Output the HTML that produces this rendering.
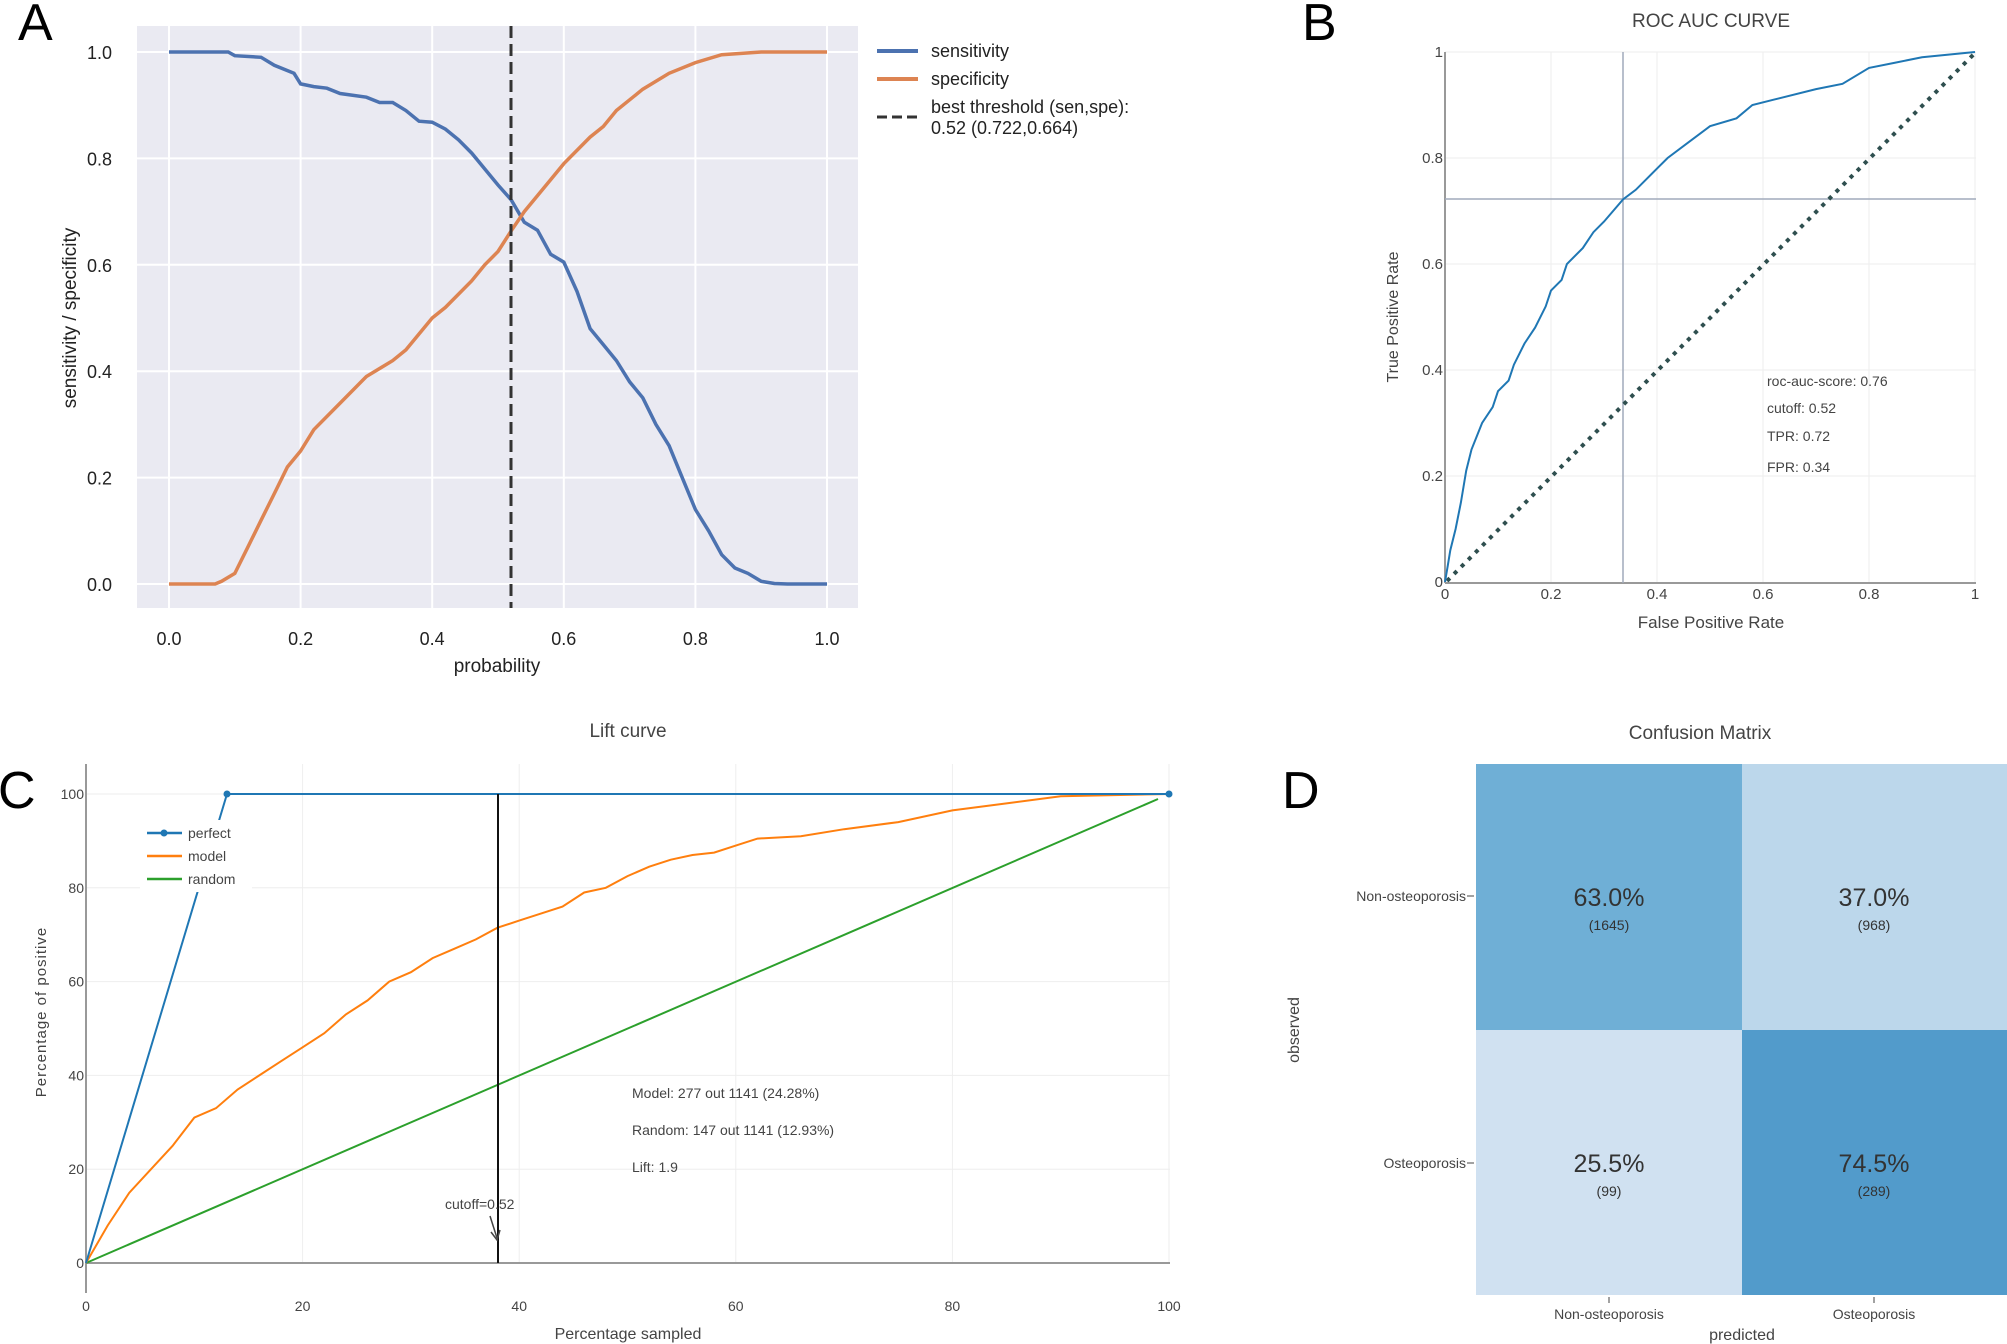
<!DOCTYPE html>
<html><head><meta charset="utf-8"><style>
body{margin:0;background:#fff;}
svg{display:block;font-family:"Liberation Sans",sans-serif;}
</style></head><body>
<svg id="s" width="2007" height="1344" viewBox="0 0 2007 1344" xmlns="http://www.w3.org/2000/svg">
<!-- Panel A -->
<text x="18" y="40" font-size="52">A</text>
<rect x="137" y="26" width="721" height="582" fill="#eaeaf2"/>
<g stroke="#fff" stroke-width="2" id="agrid"></g>
<g font-size="18" fill="#222" text-anchor="middle" id="axt"></g>
<g font-size="18" fill="#222" text-anchor="end" id="ayt"></g>
<text x="497" y="672" font-size="19" text-anchor="middle" fill="#222">probability</text>
<text transform="translate(76,318) rotate(-90)" font-size="19" text-anchor="middle" fill="#222">sensitivity / specificity</text>
<path id="sens" fill="none" stroke="#4c72b0" stroke-width="3.5"/>
<path id="spec" fill="none" stroke="#dd8452" stroke-width="3.5"/>
<line x1="511" y1="26" x2="511" y2="608" stroke="#333" stroke-width="3" stroke-dasharray="12,6"/>
<line x1="877" y1="51" x2="918" y2="51" stroke="#4c72b0" stroke-width="4"/>
<text x="931" y="57" font-size="18" fill="#222">sensitivity</text>
<line x1="877" y1="79" x2="918" y2="79" stroke="#dd8452" stroke-width="4"/>
<text x="931" y="85" font-size="18" fill="#222">specificity</text>
<line x1="877" y1="117" x2="918" y2="117" stroke="#333" stroke-width="3" stroke-dasharray="10,5"/>
<text x="931" y="113" font-size="18" fill="#222">best threshold (sen,spe):</text>
<text x="931" y="134" font-size="18" fill="#222">0.52 (0.722,0.664)</text>

<!-- Panel B -->
<text x="1302" y="40" font-size="52">B</text>
<text x="1711" y="27" font-size="19" text-anchor="middle" fill="#444">ROC AUC CURVE</text>
<g stroke="#eee" stroke-width="1" id="bgrid"></g>
<line x1="1445" y1="52" x2="1445" y2="583" stroke="#999" stroke-width="2"/>
<line x1="1445" y1="583" x2="1976" y2="583" stroke="#999" stroke-width="2"/>
<g font-size="15" fill="#444" id="bt"></g>
<text x="1711" y="628" font-size="17" text-anchor="middle" fill="#444">False Positive Rate</text>
<text transform="translate(1398,317) rotate(-90)" font-size="16" text-anchor="middle" fill="#444">True Positive Rate</text>
<line x1="1623" y1="52" x2="1623" y2="583" stroke="#a0aabb" stroke-width="1.5"/>
<line x1="1445" y1="199" x2="1976" y2="199" stroke="#a0aabb" stroke-width="1.5"/>
<line x1="1447" y1="581" x2="1975" y2="53" stroke="#2f4f4f" stroke-width="4" stroke-dasharray="4,6"/>
<path id="roc" fill="none" stroke="#1f77b4" stroke-width="2"/>
<g font-size="14" fill="#444">
<text x="1767" y="386">roc-auc-score: 0.76</text>
<text x="1767" y="413">cutoff: 0.52</text>
<text x="1767" y="441">TPR: 0.72</text>
<text x="1767" y="472">FPR: 0.34</text>
</g>

<!-- Panel C -->
<text x="-2" y="808" font-size="52">C</text>
<text x="628" y="737" font-size="19" text-anchor="middle" fill="#444">Lift curve</text>
<g stroke="#eee" stroke-width="1" id="cgrid"></g>
<line x1="86" y1="764" x2="86" y2="1293" stroke="#999" stroke-width="2"/>
<line x1="86" y1="1263" x2="1170" y2="1263" stroke="#999" stroke-width="2"/>
<g font-size="14" fill="#444" id="ct"></g>
<text x="628" y="1339" font-size="16" text-anchor="middle" fill="#444">Percentage sampled</text>
<text transform="translate(46,1012) rotate(-90)" font-size="15" text-anchor="middle" fill="#444" letter-spacing="1">Percentage of positive</text>
<line x1="86" y1="1263" x2="1158" y2="799" stroke="#2ca02c" stroke-width="2"/>
<path id="model" fill="none" stroke="#ff7f0e" stroke-width="2"/>
<polyline points="86,1263 227,794 1169,794" fill="none" stroke="#1f77b4" stroke-width="2"/>
<circle cx="227" cy="794" r="3.5" fill="#1f77b4"/><circle cx="1169" cy="794" r="3.5" fill="#1f77b4"/>
<line x1="498" y1="794" x2="498" y2="1263" stroke="#111" stroke-width="2"/>
<rect x="140" y="820" width="112" height="72" fill="#fff"/>
<line x1="147" y1="833" x2="182" y2="833" stroke="#1f77b4" stroke-width="2.5"/><circle cx="164" cy="833" r="3.5" fill="#1f77b4"/>
<text x="188" y="838" font-size="14" fill="#444">perfect</text>
<line x1="147" y1="856" x2="182" y2="856" stroke="#ff7f0e" stroke-width="2.5"/>
<text x="188" y="861" font-size="14" fill="#444">model</text>
<line x1="147" y1="879" x2="182" y2="879" stroke="#2ca02c" stroke-width="2.5"/>
<text x="188" y="884" font-size="14" fill="#444">random</text>
<g font-size="14" fill="#444">
<text x="632" y="1098">Model: 277 out 1141 (24.28%)</text>
<text x="632" y="1135">Random: 147 out 1141 (12.93%)</text>
<text x="632" y="1172">Lift: 1.9</text>
<text x="445" y="1209">cutoff=0.52</text>
</g>
<line x1="490" y1="1216" x2="497" y2="1238" stroke="#444" stroke-width="1.5"/>
<path d="M491,1232 L497,1240 L500,1230" fill="none" stroke="#444" stroke-width="1.5"/>

<!-- Panel D -->
<text x="1282" y="808" font-size="52">D</text>
<text x="1700" y="739" font-size="19" text-anchor="middle" fill="#444">Confusion Matrix</text>
<rect x="1476" y="764" width="266" height="266" fill="#6fafd6"/>
<rect x="1742" y="764" width="265" height="266" fill="#bcd7eb"/>
<rect x="1476" y="1030" width="266" height="265" fill="#d0e1f1"/>
<rect x="1742" y="1030" width="265" height="265" fill="#529bcb"/>
<g fill="#333" text-anchor="middle">
<text x="1609" y="906" font-size="25">63.0%</text><text x="1609" y="930" font-size="14">(1645)</text>
<text x="1874" y="906" font-size="25">37.0%</text><text x="1874" y="930" font-size="14">(968)</text>
<text x="1609" y="1172" font-size="25">25.5%</text><text x="1609" y="1196" font-size="14">(99)</text>
<text x="1874" y="1172" font-size="25">74.5%</text><text x="1874" y="1196" font-size="14">(289)</text>
</g>
<g font-size="14" fill="#444">
<text x="1466" y="901" text-anchor="end">Non-osteoporosis</text>
<text x="1466" y="1168" text-anchor="end">Osteoporosis</text>
<line x1="1467" y1="896" x2="1474" y2="896" stroke="#444"/>
<line x1="1467" y1="1163" x2="1474" y2="1163" stroke="#444"/>
<line x1="1609" y1="1297" x2="1609" y2="1303" stroke="#444"/>
<line x1="1874" y1="1297" x2="1874" y2="1303" stroke="#444"/>
<text x="1609" y="1319" text-anchor="middle">Non-osteoporosis</text>
<text x="1874" y="1319" text-anchor="middle">Osteoporosis</text>
</g>
<text x="1742" y="1340" font-size="16" text-anchor="middle" fill="#444">predicted</text>
<text transform="translate(1299,1030) rotate(-90)" font-size="16" text-anchor="middle" fill="#444">observed</text>
</svg>
<script>
const NS="http://www.w3.org/2000/svg";
function el(g,t,a,txt){const e=document.createElementNS(NS,t);for(const k in a)e.setAttribute(k,a[k]);if(txt!==undefined)e.textContent=txt;document.getElementById(g).appendChild(e);}
function path(id,pts,fx,fy){document.getElementById(id).setAttribute("d","M"+pts.map(p=>fx(p[0]).toFixed(1)+","+fy(p[1]).toFixed(1)).join(" L"));}
const AX=p=>169+658*p, AY=v=>584-532*v;
for(let i=0;i<=5;i++){const v=i/5;el("agrid","line",{x1:AX(v),y1:26,x2:AX(v),y2:608});el("agrid","line",{x1:137,y1:AY(v),x2:858,y2:AY(v)});
el("axt","text",{x:AX(v),y:645},v.toFixed(1));el("ayt","text",{x:112,y:AY(v)+7},v.toFixed(1));}
path("sens",[[0,1],[0.09,1],[0.1,0.993],[0.14,0.99],[0.16,0.975],[0.19,0.96],[0.2,0.94],[0.22,0.935],[0.24,0.932],[0.26,0.922],[0.3,0.915],[0.32,0.905],[0.34,0.905],[0.36,0.89],[0.38,0.87],[0.4,0.868],[0.42,0.855],[0.44,0.835],[0.46,0.81],[0.48,0.78],[0.5,0.75],[0.52,0.722],[0.54,0.68],[0.56,0.665],[0.58,0.62],[0.6,0.605],[0.62,0.55],[0.64,0.48],[0.66,0.45],[0.68,0.42],[0.7,0.38],[0.72,0.35],[0.74,0.3],[0.76,0.26],[0.78,0.2],[0.8,0.14],[0.82,0.1],[0.84,0.055],[0.86,0.03],[0.88,0.02],[0.9,0.005],[0.92,0.001],[0.94,0],[1,0]],AX,AY);
path("spec",[[0,0],[0.07,0],[0.08,0.005],[0.1,0.02],[0.12,0.07],[0.14,0.12],[0.16,0.17],[0.18,0.22],[0.2,0.25],[0.22,0.29],[0.26,0.34],[0.3,0.39],[0.34,0.42],[0.36,0.44],[0.4,0.5],[0.42,0.52],[0.46,0.57],[0.48,0.6],[0.5,0.625],[0.52,0.664],[0.54,0.7],[0.56,0.73],[0.58,0.76],[0.6,0.79],[0.64,0.84],[0.66,0.86],[0.68,0.89],[0.72,0.93],[0.76,0.96],[0.8,0.98],[0.84,0.995],[0.9,1],[1,1]],AX,AY);
const BX=f=>1445+530*f, BY=t=>582-530*t;
const lbl=v=>v===0?"0":v===1?"1":v.toFixed(1);
for(let i=0;i<=5;i++){const v=i/5;if(i>0){el("bgrid","line",{x1:BX(v),y1:52,x2:BX(v),y2:582});el("bgrid","line",{x1:1445,y1:BY(v),x2:1976,y2:BY(v)});}
el("bt","text",{x:BX(v),y:599,"text-anchor":"middle"},lbl(v));el("bt","text",{x:1443,y:BY(v)+5,"text-anchor":"end"},lbl(v));}
path("roc",[[0,0],[0.005,0.03],[0.01,0.06],[0.02,0.1],[0.03,0.15],[0.04,0.21],[0.05,0.25],[0.07,0.3],[0.09,0.33],[0.1,0.36],[0.12,0.38],[0.13,0.41],[0.15,0.45],[0.17,0.48],[0.19,0.52],[0.2,0.55],[0.22,0.57],[0.23,0.6],[0.26,0.63],[0.28,0.66],[0.3,0.68],[0.336,0.722],[0.36,0.74],[0.38,0.76],[0.4,0.78],[0.42,0.8],[0.46,0.83],[0.5,0.86],[0.55,0.875],[0.58,0.9],[0.62,0.91],[0.7,0.93],[0.75,0.94],[0.8,0.97],[0.85,0.98],[0.9,0.99],[0.95,0.995],[1,1]],BX,BY);
const CX=x=>86+10.83*x, CY=y=>1263-4.69*y;
for(let i=0;i<=5;i++){const v=i*20;if(i>0){el("cgrid","line",{x1:CX(v),y1:764,x2:CX(v),y2:1263});el("cgrid","line",{x1:86,y1:CY(v),x2:1170,y2:CY(v)});}
el("ct","text",{x:CX(v),y:1311,"text-anchor":"middle"},v);el("ct","text",{x:84,y:CY(v)+5,"text-anchor":"end"},v);}
path("model",[[0,0],[2,8],[4,15],[6,20],[8,25],[10,31],[12,33],[14,37],[16,40],[18,43],[20,46],[22,49],[24,53],[26,56],[28,60],[30,62],[32,65],[34,67],[36,69],[38,71.5],[40,73],[42,74.5],[44,76],[46,79],[48,80],[50,82.5],[52,84.5],[54,86],[56,87],[58,87.5],[60,89],[62,90.5],[66,91],[70,92.5],[75,94],[80,96.5],[85,98],[90,99.5],[100,100]],CX,CY);
</script>
</body></html>
